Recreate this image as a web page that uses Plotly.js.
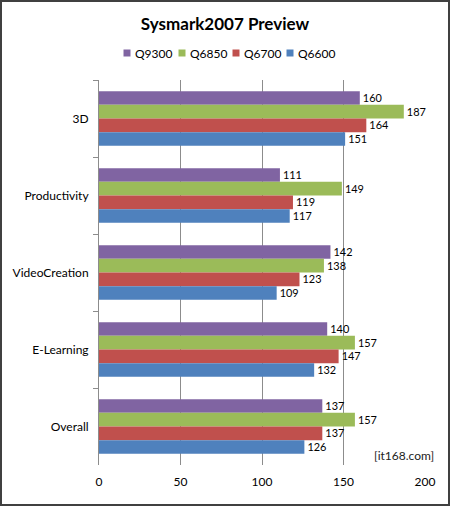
<!DOCTYPE html>
<html>
<head>
<meta charset="utf-8">
<script src="https://cdn.plot.ly/plotly-3.0.1.min.js"></script>
<style>
html,body{margin:0;padding:0;background:#fff;}
#wrap{position:relative;width:450px;height:506px;}
#chart{width:450px;height:506px;}
#frame{position:absolute;left:0;top:0;width:450px;height:506px;box-sizing:border-box;border:2px solid #404040;pointer-events:none;}
</style>
</head>
<body>
<div id="wrap"><div id="chart"></div><div id="frame"></div></div>
<script>
var categories = ["3D", "Productivity", "VideoCreation", "E-Learning", "Overall"];
var seriesNames = ["Q9300", "Q6850", "Q6700", "Q6600"];
var q9300 = [160, 111, 142, 140, 137];
var q6850 = [187, 149, 138, 157, 157];
var q6700 = [164, 119, 123, 147, 137];
var q6600 = [151, 117, 109, 132, 126];
var xTicks = [0, 50, 100, 150, 200];
var colors = ["#8064A2", "#9BBB59", "#C0504D", "#4F81BD"];
var seriesValues = [q9300, q6850, q6700, q6600];

var FONT = "Lato, 'Noto Sans', sans-serif";
var W = 450, H = 506, ML = 99, MR = 25, MT = 80, MB = 41;
var PW = W - ML - MR, PH = H - MT - MB;
function px2x(px) { return (px - ML) / PW; }
function py2y(py) { return (H - MB - py) / PH; }

var traces = seriesValues.map(function (vals, i) {
  return {
    type: "bar",
    orientation: "h",
    name: seriesNames[i],
    y: categories,
    x: vals,
    text: vals.map(String),
    textposition: "outside",
    cliponaxis: false,
    textfont: {family: FONT, size: 12, color: "#000"},
    marker: {color: colors[i], line: {width: 0}},
    hoverinfo: "x+name",
    showlegend: false
  };
});

// legend built from the series names and colours
var legendMarkerPx = [127, 182, 236, 290];
var legendY = 53;
var shapes = [];
var annotations = [];
seriesNames.forEach(function (nm, i) {
  var cx = legendMarkerPx[i];
  shapes.push({
    type: "rect", xref: "paper", yref: "paper",
    x0: px2x(cx - 3.5), x1: px2x(cx + 3.5),
    y0: py2y(legendY + 3.5), y1: py2y(legendY - 3.5),
    fillcolor: colors[i], line: {width: 0}
  });
  annotations.push({
    text: nm, xref: "paper", yref: "paper",
    x: px2x(cx + 6), y: py2y(legendY),
    xanchor: "left", yanchor: "middle", showarrow: false,
    font: {family: FONT, size: 12, color: "#000"}
  });
});
annotations.push({
  text: "[it168.com]",
  xref: "paper", yref: "paper",
  x: px2x(436), y: py2y(455),
  xanchor: "right", yanchor: "middle",
  showarrow: false,
  font: {family: FONT, size: 12, color: "#222"}
});

var layout = {
  width: W,
  height: H,
  paper_bgcolor: "#fff",
  plot_bgcolor: "#fff",
  font: {family: FONT, size: 11, color: "#000"},
  margin: {l: ML, r: MR, t: MT, b: MB},
  barmode: "group",
  bargap: 0.29,
  bargroupgap: 0,
  title: {
    text: "<b>Sysmark2007 Preview</b>",
    font: {family: FONT, size: 17, color: "#000"},
    x: 0.5, xref: "container", xanchor: "center",
    y: 1 - 24 / H, yref: "container", yanchor: "middle"
  },
  showlegend: false,
  xaxis: {
    range: [0, 200],
    tickvals: xTicks,
    ticktext: xTicks.map(String),
    showgrid: true,
    gridcolor: "#8c8c8c",
    gridwidth: 1,
    zeroline: false,
    showline: false,
    ticks: "",
    ticklabelstandoff: 8,
    tickfont: {family: FONT, size: 12, color: "#000"},
    fixedrange: true
  },
  yaxis: {
    type: "category",
    categoryorder: "array",
    categoryarray: categories,
    autorange: "reversed",
    showgrid: false,
    zeroline: false,
    showline: true,
    linecolor: "#8c8c8c",
    linewidth: 1,
    ticks: "outside",
    tickson: "boundaries",
    ticklen: 5,
    tickcolor: "#8c8c8c",
    ticklabelstandoff: 7,
    tickfont: {family: FONT, size: 12, color: "#000"},
    fixedrange: true
  },
  shapes: shapes,
  annotations: annotations
};

Plotly.newPlot("chart", traces, layout, {displayModeBar: false, staticPlot: true});
</script>
</body>
</html>
